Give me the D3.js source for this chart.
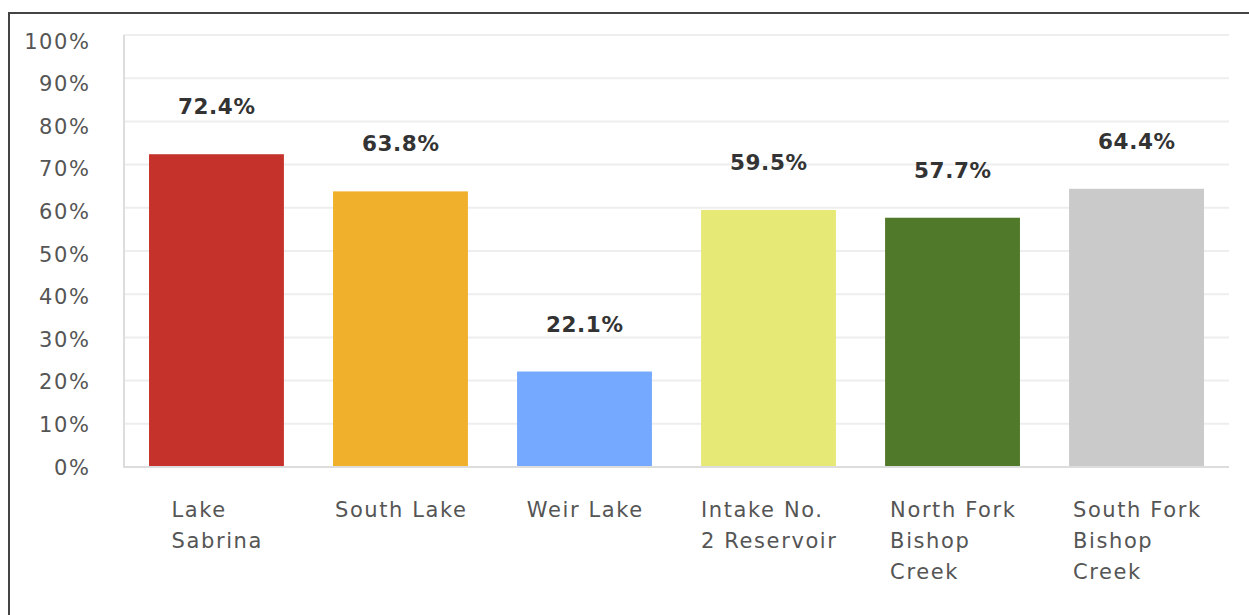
<!DOCTYPE html>
<html>
<head>
<meta charset="utf-8">
<script src="https://cdn.jsdelivr.net/npm/d3@7"></script>
<style>
  html, body { margin: 0; padding: 0; background: #fff; }
  svg { display: block; }
</style>
</head>
<body>
<svg id="chart" width="1249" height="615"></svg>
<script>
const categories = ["Lake Sabrina", "South Lake", "Weir Lake", "Intake No. 2 Reservoir", "North Fork Bishop Creek", "South Fork Bishop Creek"];
const categoryLines = [["Lake", "Sabrina"], ["South Lake"], ["Weir Lake"], ["Intake No.", "2 Reservoir"], ["North Fork", "Bishop", "Creek"], ["South Fork", "Bishop", "Creek"]];
const values = [72.4, 63.8, 22.1, 59.5, 57.7, 64.4];
const colors = ["#c4322b", "#f0b02c", "#75a8ff", "#e7e977", "#507a29", "#cacaca"];
const tickValues = [0, 10, 20, 30, 40, 50, 60, 70, 80, 90, 100];

const svg = d3.select("#chart");
const W = 1249, H = 615;
const plot = { left: 124, right: 1229, top: 35, bottom: 467 };
const FONT = "'DejaVu Sans', sans-serif";
const LS = 1.6;
const LSV = 0.6;

// outer frame
svg.append("rect")
  .attr("x", 9).attr("y", 13)
  .attr("width", W + 20).attr("height", H + 20)
  .attr("fill", "none").attr("stroke", "#444").attr("stroke-width", 2);

const x = d3.scaleBand()
  .domain(categories)
  .range([plot.left, plot.right])
  .paddingInner(0.267)
  .paddingOuter(0.136);

const y = d3.scaleLinear().domain([0, 100]).range([plot.bottom, plot.top]);

// gridlines
svg.append("g")
  .selectAll("line")
  .data(tickValues.filter(d => d > 0))
  .join("line")
  .attr("x1", plot.left).attr("x2", plot.right)
  .attr("y1", d => y(d)).attr("y2", d => y(d))
  .attr("stroke", "#eeeeee").attr("stroke-width", 2);

// y axis labels via d3 axis
const yAxis = d3.axisLeft(y).tickValues(tickValues).tickFormat(d => d + "%").tickSize(0).tickPadding(0);
const gy = svg.append("g").attr("transform", `translate(${89 + LS},0)`).call(yAxis);
gy.select(".domain").remove();
gy.selectAll("text")
  .attr("font-family", FONT)
  .attr("font-size", 21)
  .attr("letter-spacing", LS)
  .attr("fill", "#555")
  .attr("dy", function(d) { return (0.34 + (d / 100) * 0.28) + "em"; });

// axis lines
svg.append("line")
  .attr("x1", plot.left).attr("x2", plot.left)
  .attr("y1", plot.top).attr("y2", plot.bottom)
  .attr("stroke", "#dddddd").attr("stroke-width", 2);
svg.append("line")
  .attr("x1", plot.left - 1).attr("x2", plot.right)
  .attr("y1", plot.bottom).attr("y2", plot.bottom)
  .attr("stroke", "#dddddd").attr("stroke-width", 2);

// bars
svg.append("g")
  .selectAll("rect")
  .data(categories)
  .join("rect")
  .attr("x", d => x(d))
  .attr("width", x.bandwidth())
  .attr("y", (d, i) => y(values[i]))
  .attr("height", (d, i) => plot.bottom - 1 - y(values[i]))
  .attr("fill", (d, i) => colors[i]);

// value labels
svg.append("g")
  .selectAll("text")
  .data(categories)
  .join("text")
  .attr("x", d => x(d) + x.bandwidth() / 2 + LSV / 2)
  .attr("y", (d, i) => y(values[i]) - 40)
  .attr("text-anchor", "middle")
  .attr("font-family", FONT)
  .attr("font-weight", "bold")
  .attr("font-size", 21.5)
  .attr("letter-spacing", LSV)
  .attr("fill", "#333")
  .text((d, i) => values[i].toFixed(1) + "%");

// category labels: left-aligned block centered in band
const catG = svg.append("g");
categories.forEach((c, i) => {
  const t = catG.append("text")
    .attr("font-family", FONT)
    .attr("font-size", 21)
    .attr("letter-spacing", LS)
    .attr("fill", "#555");
  categoryLines[i].forEach((ln, j) => {
    t.append("tspan").attr("x", 0).attr("y", 517 + j * 31).text(ln);
  });
  let maxW = 0;
  t.selectAll("tspan").each(function() { maxW = Math.max(maxW, this.getComputedTextLength()); });
  const left = x(c) + x.bandwidth() / 2 - (maxW - LS) / 2;
  t.attr("transform", `translate(${left},0)`);
});
</script>
</body>
</html>
